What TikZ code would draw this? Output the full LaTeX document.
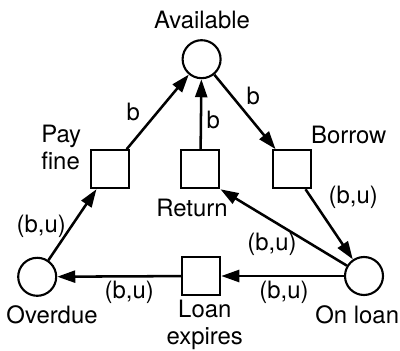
\documentclass[tikz,border=0pt]{standalone}
\usepackage{fontspec}
\setmainfont{TeX Gyre Heros}
\usetikzlibrary{arrows.meta}
\tikzset{
  place/.style={draw, circle, line width=1.5pt, minimum size=0.95cm, inner sep=0pt},
  trans/.style={draw, rectangle, line width=1.5pt, minimum size=0.95cm, inner sep=0pt},
  arc/.style={line width=1.8pt, -{Triangle[length=0.45cm, width=0.3cm]}},
  lbl/.style={font=\fontsize{17}{19}\selectfont, inner sep=0pt}
}
\begin{document}
\begin{tikzpicture}
            \useasboundingbox (0,0) rectangle (10,8.75);
            % places
            \node[place] (avail) at (5.04,7.27) {};
            \node[place] (overdue) at (0.93,1.83) {};
            \node[place] (onloan) at (9.1,1.85) {};
            % transitions
            \node[trans] (payfine) at (2.75,4.52) {};
            \node[trans] (ret) at (5.01,4.52) {};
            \node[trans] (borrow) at (7.3,4.52) {};
            \node[trans] (expires) at (5.03,1.85) {};
            % arcs
            \draw[arc] (payfine) -- (avail);
            \draw[arc] (ret) -- (avail);
            \draw[arc] (avail) -- (borrow);
            \draw[arc] (borrow) -- (onloan);
            \draw[arc] (onloan) -- (ret.south east);
            \draw[arc] (onloan) -- (expires);
            \draw[arc] (expires) -- (overdue);
            \draw[arc] (overdue) -- (payfine);
            % names
            \node[lbl] (tavail) at (5.05,8.25) {Available};
            \node[lbl, align=left] (tpay) at (1.53,5.07) {Pay\\fine};
            \node[lbl] (tborrow) at (8.72,5.37) {Borrow};
            \node[lbl] (tret) at (4.8,3.55) {Return};
            \node[lbl] (tover) at (1.3,0.87) {Overdue};
            \node[lbl, align=center] (texp) at (5.12,0.62) {Loan\\expires};
            \node[lbl] (tloan) at (8.93,0.87) {On loan};
            % arc inscriptions
            \node[lbl] (w1) at (3.33,5.95) {b};
            \node[lbl] (w2) at (5.33,5.75) {b};
            \node[lbl] (w3) at (6.33,6.35) {b};
            \node[lbl] (w4) at (8.83,3.82) {(b,u)};
            \node[lbl] (w5) at (1.03,3.1) {(b,u)};
            \node[lbl] (w6) at (6.8,2.63) {(b,u)};
            \node[lbl] (w7) at (7.1,1.45) {(b,u)};
            \node[lbl] (w8) at (3.23,1.45) {(b,u)};
	\end{tikzpicture}
\end{document}
